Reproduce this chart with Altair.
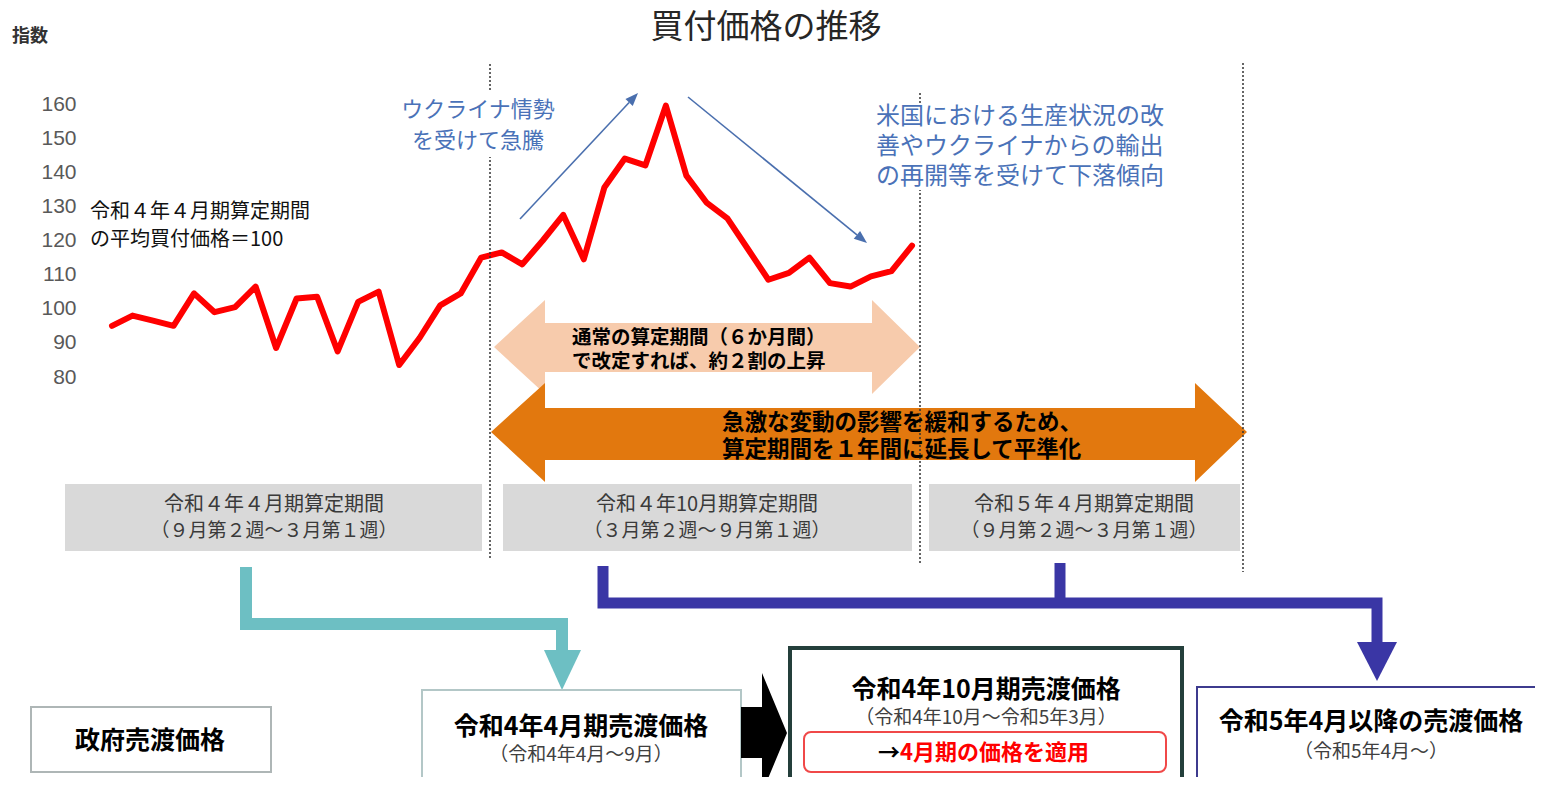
import math
import altair as alt
import pandas as pd

# ---------------- data ----------------
weeks = list(range(1, 41))
index_values = [95, 98, 96.5, 95, 104.5, 99, 100.5, 106.5, 88.5, 103,
                103.5, 87.5, 102, 105, 83.5, 91.5, 101, 104.5, 115, 116.5,
                113, 120, 127.5, 114.5, 135.5, 144, 142, 159.5, 139, 131,
                126.5, 117.5, 108.5, 110.5, 115, 107.5, 106.5, 109.5, 111, 118.5]
y_ticks = [80, 90, 100, 110, 120, 130, 140, 150, 160]

title_text = "買付価格の推移"
y_title = "指数"
base_note = ["令和４年４月期算定期間", "の平均買付価格＝100"]
rise_note = ["ウクライナ情勢", "を受けて急騰"]
fall_note = ["米国における生産状況の改", "善やウクライナからの輸出", "の再開等を受けて下落傾向"]
normal_note = ["通常の算定期間（６か月間）", "で改定すれば、約２割の上昇"]
extend_note = ["急激な変動の影響を緩和するため、", "算定期間を１年間に延長して平準化"]
period_titles = ["令和４年４月期算定期間", "令和４年10月期算定期間", "令和５年４月期算定期間"]
period_ranges = ["（９月第２週～３月第１週）", "（３月第２週～９月第１週）", "（９月第２週～３月第１週）"]
gov_label = "政府売渡価格"
price_titles = ["令和4年4月期売渡価格", "令和4年10月期売渡価格", "令和5年4月以降の売渡価格"]
price_ranges = ["（令和4年4月～9月）", "（令和4年10月～令和5年3月）", "（令和5年4月～）"]
apply_arrow = "→"
apply_text = "4月期の価格を適用"

# ---------------- layout helpers ----------------
JP = "Noto Sans CJK JP"
PAD_L = 80
W = 1447
H = 769
K = 800 / 39          # pixels per week
S = 273 / 80          # pixels per index point


def X(px):
    return 1 + (px - 112) / K


def Y(py):
    return 160 - (py - 104) / S


xs = alt.Scale(domain=[X(8 + PAD_L), X(8 + PAD_L + W)], nice=False, zero=False)
ys = alt.Scale(domain=[Y(8 + H), Y(8)], nice=False, zero=False)

Y_AXIS = alt.Axis(values=y_ticks, title=None, domain=False, ticks=False, grid=False,
                  labelFont="Liberation Sans", labelFontSize=21, labelColor="#595959",
                  labelPadding=12, orient="left", zindex=1)

XN = lambda f="x": alt.X(f"{f}:Q", scale=xs, axis=None)
YN = lambda f="y": alt.Y(f"{f}:Q", scale=ys, axis=Y_AXIS)


def texts(rows, **kw):
    df = pd.DataFrame([{"x": X(a), "y": Y(b), "t": t} for a, b, t in rows])
    base = dict(font=JP, baseline="middle", align="center", color="#000000")
    base.update(kw)
    return alt.Chart(df).mark_text(**base).encode(x=XN(), y=YN(), text="t:N")


def rects(rows, **kw):
    df = pd.DataFrame([{"x": X(a), "x2": X(c), "y": Y(b), "y2": Y(d)} for a, b, c, d in rows])
    return alt.Chart(df).mark_rect(**kw).encode(
        x=XN(), x2="x2:Q", y=YN(), y2="y2:Q")


def shape(points, color):
    xs_ = [p[0] for p in points]
    ys_ = [p[1] for p in points]
    cx = (min(xs_) + max(xs_)) / 2
    cy = (min(ys_) + max(ys_)) / 2
    half = max(max(xs_) - min(xs_), max(ys_) - min(ys_)) / 2
    path = "M" + " L".join(f"{(a - cx) / half:.4f},{(b - cy) / half:.4f}" for a, b in points) + " Z"
    df = pd.DataFrame({"x": [X(cx)], "y": [Y(cy)]})
    return alt.Chart(df).mark_point(shape=path, filled=True, fill=color, opacity=1,
                                    strokeWidth=0, size=(2 * half) ** 2).encode(x=XN(), y=YN())


def polyline(segs, color, width):
    rows = []
    for s, pts in enumerate(segs):
        for o, (a, b) in enumerate(pts):
            rows.append({"x": X(a), "y": Y(b), "o": o, "seg": s})
    return alt.Chart(pd.DataFrame(rows)).mark_line(
        color=color, strokeWidth=width, strokeCap="butt", strokeJoin="miter").encode(
        x=XN(), y=YN(), order="o:O", detail="seg:N")


def arrow(x1, y1, x2, y2, color, L=13, hw=5):
    n = math.hypot(x2 - x1, y2 - y1)
    ux, uy = (x2 - x1) / n, (y2 - y1) / n
    bx, by = x2 - ux * L, y2 - uy * L
    px, py = -uy, ux
    df = pd.DataFrame({"x": [X(x1)], "y": [Y(y1)], "x2": [X(bx)], "y2": [Y(by)]})
    rule = alt.Chart(df).mark_rule(color=color, strokeWidth=1.6).encode(
        x=XN(), y=YN(), x2="x2:Q", y2="y2:Q")
    head = shape([(x2, y2), (bx + px * hw, by + py * hw), (bx - px * hw, by - py * hw)], color)
    return [rule, head]


BLUE_T = "#4A72B8"
BLUE_A = "#4A6FAE"
NAVY = "#3A36A5"
TEAL = "#6DBFC3"

layers = []

# red price line
line_df = pd.DataFrame({"x": weeks, "y": index_values})
layers.append(alt.Chart(line_df).mark_line(color="#FF0000", strokeWidth=6, strokeJoin="round",
                                           strokeCap="round").encode(x=XN(), y=YN()))

# gray period boxes
layers.append(rects([(65, 484, 482, 551), (503, 484, 912, 551), (929, 484, 1240, 551)],
                    color="#D9D9D9"))

# double arrows
layers.append(shape([(494, 347), (545, 300), (545, 323), (872, 323), (872, 300), (920, 347),
                     (872, 394), (872, 372), (545, 372), (545, 394)], "#F7CBAC"))
layers.append(shape([(491, 432), (545, 383), (545, 408), (1195, 408), (1195, 383), (1247, 432),
                     (1195, 482), (1195, 460), (545, 460), (545, 482)], "#E2780E"))

# dotted period separators
dl = pd.DataFrame([{"x": X(a), "y": Y(b), "y2": Y(c)} for a, b, c in
                   [(490, 64, 560), (920, 93, 565), (1243, 63, 572)]])
layers.append(alt.Chart(dl).mark_rule(color="#333333", strokeWidth=1.5, strokeDash=[2, 2]).encode(
    x=XN(), y=YN(), y2="y2:Q"))

# white masks behind blue notes
layers.append(rects([(392, 90, 562, 157), (870, 103, 1172, 190)], color="#FFFFFF"))

# blue arrows
layers += arrow(520, 219, 638, 93, BLUE_A)
layers += arrow(688, 97, 867, 243, BLUE_A)

# connectors
layers.append(polyline([[(246, 567), (246, 624), (562, 624), (562, 652)]], TEAL, 12))
layers.append(shape([(544, 650), (581, 650), (562, 690)], TEAL))
layers.append(polyline([[(603, 566), (603, 603), (1377, 603), (1377, 644)],
                        [(1060, 563), (1060, 604)]], NAVY, 11))
layers.append(shape([(1357, 642), (1397, 642), (1377, 681)], NAVY))

# bottom boxes
layers.append(rects([(31, 707, 271, 772)], fill="#FFFFFF", stroke="#AEB6B6", strokeWidth=2))
layers.append(rects([(422, 690, 741, 800)], fill="#FFFFFF", stroke="#B3C7C7", strokeWidth=2))
layers.append(rects([(790, 648, 1182, 800)], fill="#FFFFFF", stroke="#243F3B", strokeWidth=4))
layers.append(rects([(1197, 687, 1600, 800)], fill="#FFFFFF", stroke="#3D3B8E", strokeWidth=2))
layers.append(rects([(804, 732, 1166, 772)], fill="#FFFFFF", stroke="#F04848", strokeWidth=2,
                    cornerRadius=7))
layers.append(shape([(741, 707), (762, 707), (762, 673), (787, 733), (762, 793), (762, 758),
                     (741, 758)], "#000000"))

# texts
layers.append(texts([(766, 28, title_text)], fontSize=33, color="#262626"))
layers.append(texts([(12, 37, y_title)], fontSize=18, fontWeight="bold", align="left", color="#333333"))
layers.append(texts([(90, 212, base_note[0]), (90, 240, base_note[1])], fontSize=20, align="left",
                    color="#111111"))
layers.append(texts([(478, 110, rise_note[0]), (478, 141, rise_note[1])], fontSize=22, color=BLUE_T))
layers.append(texts([(876, 117, fall_note[0]), (876, 147, fall_note[1]), (876, 177, fall_note[2])],
                    fontSize=24, align="left", color=BLUE_T))
layers.append(texts([(572, 338, normal_note[0]), (572, 362, normal_note[1])], fontSize=19.5,
                    fontWeight="bold", align="left"))
layers.append(texts([(722, 423, extend_note[0]), (722, 450, extend_note[1])], fontSize=22.5,
                    fontWeight="bold", align="left"))
cx_period = [274, 707, 1084]
layers.append(texts([(c, 505, t) for c, t in zip(cx_period, period_titles)], fontSize=20, color="#3A3A3A"))
layers.append(texts([(c, 531, t) for c, t in zip(cx_period, period_ranges)], fontSize=19, color="#3A3A3A"))
layers.append(texts([(150, 741, gov_label)], fontSize=25, fontWeight="bold"))
layers.append(texts([(581, 727, price_titles[0]), (986, 690, price_titles[1]), (1371, 722, price_titles[2])],
                    fontSize=25, fontWeight="bold"))
layers.append(texts([(581, 755, price_ranges[0]), (986, 718, price_ranges[1]), (1371, 752, price_ranges[2])],
                    fontSize=19, color="#404040"))
layers.append(texts([(900, 753, apply_arrow)], fontSize=22, fontWeight="bold", align="right"))
layers.append(texts([(900, 753, apply_text)], fontSize=22, fontWeight="bold", align="left", color="#FF0000"))

chart = alt.layer(*layers).properties(
    width=W, height=H,
    padding={"left": PAD_L, "top": 0, "right": 0, "bottom": 0},
    autosize=alt.AutoSizeParams(type="none"),
    background="#FFFFFF",
).configure_view(stroke=None)

chart.save("out.html", embed_options={"renderer": "svg", "actions": False})
